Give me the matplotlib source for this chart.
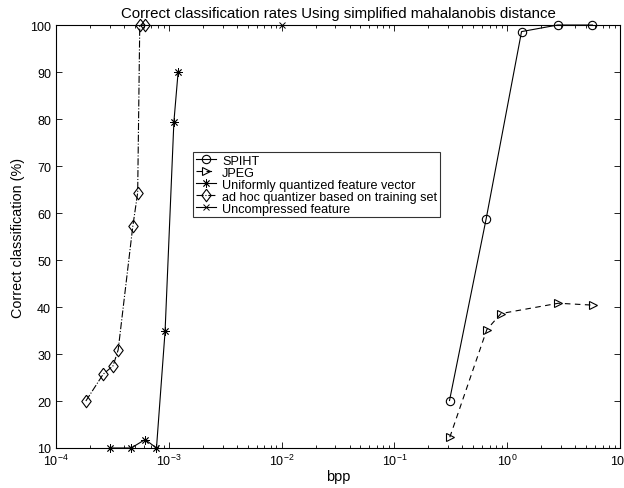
import matplotlib.pyplot as plt

plt.rcParams['font.family'] = ['Liberation Sans', 'DejaVu Sans']

# SPIHT
spiht_bpp = [0.308, 0.65, 1.34, 2.8, 5.7]
spiht_rate = [20.1, 58.7, 98.6, 100.0, 100.0]

# JPEG
jpeg_bpp = [0.31, 0.66, 0.88, 2.84, 5.73]
jpeg_rate = [12.3, 35.2, 38.6, 40.8, 40.4]

# Uniformly quantized feature vector
unif_bpp = [3.03e-4, 4.64e-4, 6.17e-4, 7.78e-4, 9.27e-4, 1.11e-3, 1.21e-3]
unif_rate = [10.0, 10.0, 11.8, 10.0, 34.8, 79.4, 90.0]

# ad hoc quantizer based on training set
adhoc_bpp = [1.84e-4, 2.62e-4, 3.21e-4, 3.56e-4, 4.8e-4, 5.3e-4, 5.53e-4, 6.14e-4]
adhoc_rate = [20.0, 25.7, 27.5, 30.9, 57.2, 64.3, 100.0, 100.0]

# Uncompressed feature
unc_bpp = [0.01]
unc_rate = [100.0]

# matlab style diamond (a bit wider than matplotlib's 'd')
diamond = [(0, 1), (0.75, 0), (0, -1), (-0.75, 0), (0, 1)]

fig = plt.figure(figsize=(6.24, 4.89), dpi=100)
ax = fig.add_axes([0.0897, 0.0818, 0.9039, 0.865])

kw = dict(color='black', lw=0.8, mfc='none', clip_on=False)
ax.plot(spiht_bpp, spiht_rate, '-', marker='o', ms=6, mew=0.8, label='SPIHT', **kw)
ax.plot(jpeg_bpp, jpeg_rate, '--', marker='>', ms=6, mew=0.8, dashes=(5, 4),
        label='JPEG', **kw)
ax.plot(unif_bpp, unif_rate, '-', marker=(8, 2, 0), ms=6, mew=0.6,
        label='Uniformly quantized feature vector', **kw)
ax.plot(adhoc_bpp, adhoc_rate, '-.', marker=diamond, ms=9, mew=0.8,
        label='ad hoc quantizer based on training set', **kw)
ax.plot(unc_bpp, unc_rate, '-', marker='x', ms=5, mew=0.7,
        label='Uncompressed feature', **kw)

ax.set_xscale('log')
ax.set_xlim(1e-4, 10)
ax.set_ylim(10, 100)
ax.set_yticks(range(10, 101, 10))
ax.tick_params(which='both', direction='in', top=True, right=True, labelsize=9, width=0.6)
ax.tick_params(which='major', length=4)
ax.tick_params(which='minor', length=2.5)
for s in ax.spines.values():
    s.set_linewidth(0.8)

ax.set_xlabel('bpp', fontsize=10.5, labelpad=1)
ax.set_ylabel('Correct classification (%)', fontsize=10.4, labelpad=4)
ax.set_title('Correct classification rates Using simplified mahalanobis distance',
             fontsize=10.8, pad=6)

leg = ax.legend(loc='upper left', bbox_to_anchor=(193 / 624, 1 - 153 / 489),
                bbox_transform=fig.transFigure, fontsize=9.1, frameon=True,
                fancybox=False, edgecolor='black', handlelength=1.6,
                handletextpad=0.5, labelspacing=0.0, borderpad=0.2,
                borderaxespad=0)
leg.get_frame().set_linewidth(0.8)

fig.savefig('out.png', dpi=100)
